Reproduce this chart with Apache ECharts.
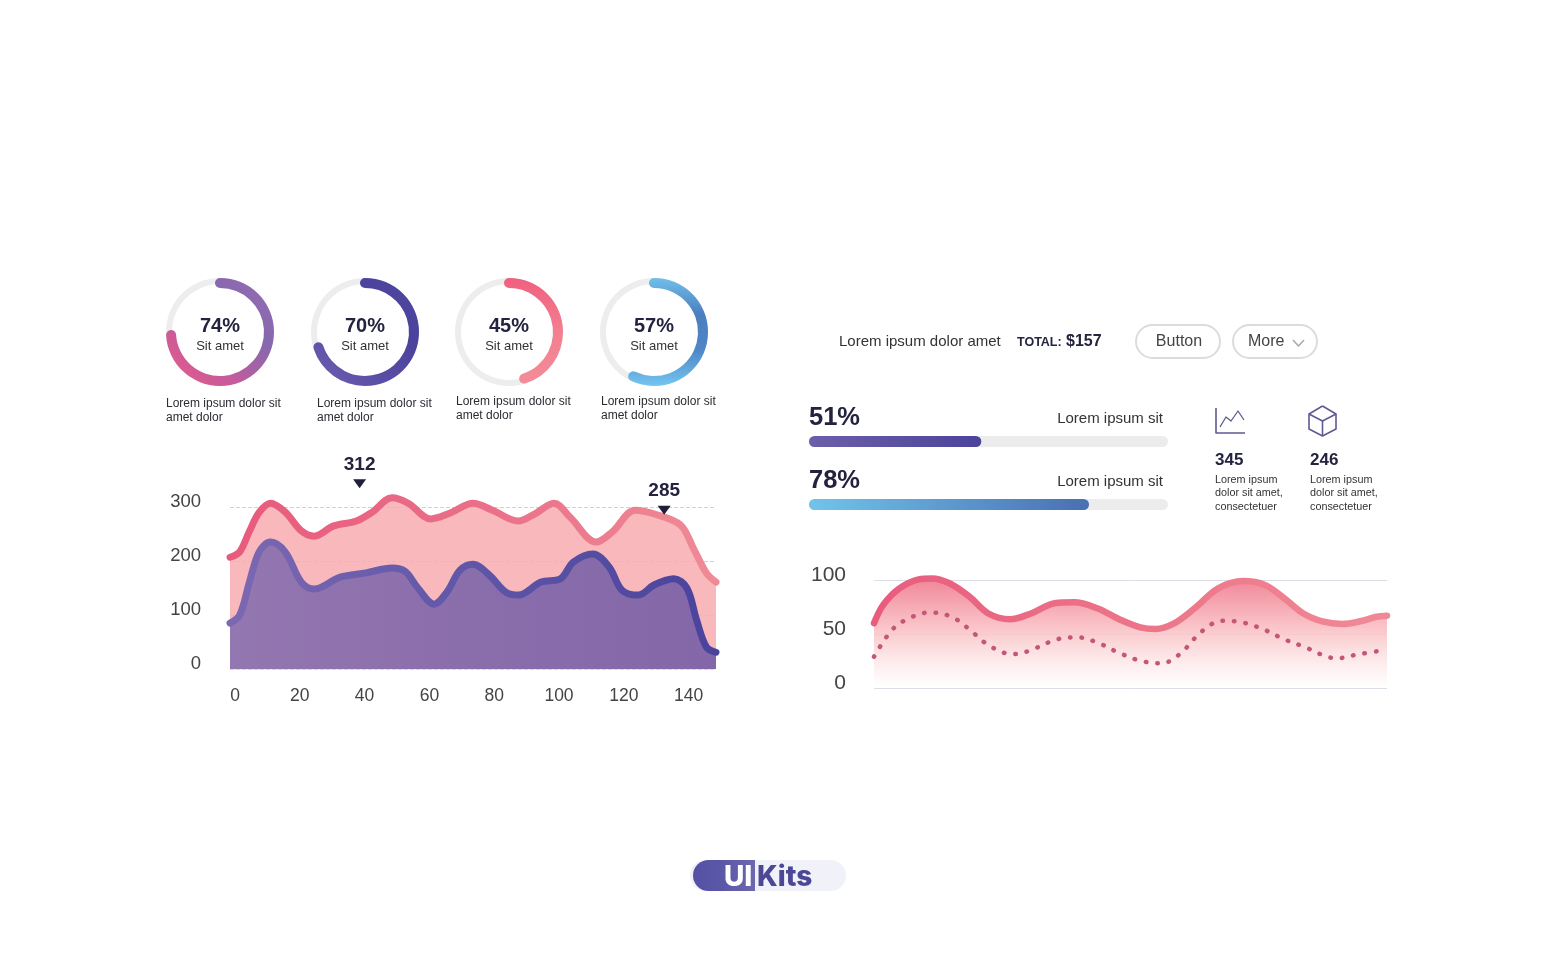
<!DOCTYPE html>
<html>
<head>
<meta charset="utf-8">
<style>
  html, body { margin: 0; background: #fff; }
  #app { width: 1556px; height: 980px; }
</style>
<script src="https://cdn.jsdelivr.net/npm/echarts@6/dist/echarts.min.js"></script>
</head>
<body>
<div id="app"></div>
<script>
const ringValues = [74, 70, 45, 57];
const ringName = 'Sit amet';
const ringCaptions = ['Lorem ipsum dolor sit', 'amet dolor'];

const areaX = [0, 3, 6, 9, 12.5, 17, 22, 26, 32, 39, 44, 50, 55, 62, 68, 75, 81, 89, 94, 100, 105, 113, 118, 125, 131, 139, 143, 147, 150];
const areaPink = [207, 217, 255, 290, 307, 291, 256, 246, 265, 274, 291, 317, 307, 278, 289, 307, 294, 274, 287, 307, 281, 235, 254, 294, 287, 267, 224, 178, 161];
const purpleX = [0, 3, 6, 9, 12.5, 17, 22, 26, 34, 42, 50, 54, 58, 63, 67, 71, 75, 80, 85, 89, 96, 102, 106, 112, 117, 121, 126, 131, 137, 141, 144, 147, 150];
const areaPurple = [85, 100, 161, 217, 235, 217, 161, 148, 170, 178, 187, 181, 150, 120, 143, 183, 194, 174, 143, 137, 161, 167, 198, 213, 189, 146, 137, 156, 167, 150, 91, 41, 31];
const calloutX = [40, 134];
const calloutY = [343, 294];
const calloutText = ['312', '285'];

const barLabels = ['51%', '78%'];
const barValues = [48, 78];

const waveX = [0, 1.8, 4.9, 8.7, 11.3, 14.7, 18.6, 22.3, 26.5, 30.6, 35.2, 39, 43.5, 48.1, 51.9, 54.9, 58.3, 62.5, 67.1, 72, 76.2, 80, 83.7, 87.6, 91.3, 95, 98, 100];
const waveSolid = [60, 77, 92, 100.6, 101.5, 97, 84.6, 69, 63.6, 69, 78.4, 79.3, 73.8, 63, 56.2, 54.6, 59.3, 73.8, 92.3, 99, 95.4, 83, 69, 61.4, 59.3, 62, 66, 67];
const dotX = [0, 3.5, 6.8, 10.9, 15.1, 18.6, 21.6, 25.3, 27.6, 31.4, 35.6, 39.8, 43.9, 47.7, 51.9, 56.1, 59.8, 62.5, 65.5, 67.8, 72, 76.2, 80, 84.1, 87.9, 90.2, 94.4, 98.9];
const waveDotted = [29, 53.7, 64.5, 70, 66, 54.3, 42, 32.7, 31.5, 36.7, 45, 46.9, 41.3, 32.7, 25.3, 22.8, 32.1, 46, 58.3, 62.3, 60.5, 53.7, 45, 37.7, 29.6, 27.5, 31.2, 34.6];

const FONT = '"Liberation Sans", Arial, sans-serif';
const INK = '#23233f';
const SMOOTH = 0.35;
const grad = (x, y, x2, y2, stops) => new echarts.graphic.LinearGradient(x, y, x2, y2,
  stops.map((color, i) => ({ offset: i / (stops.length - 1), color })));
const pairs = (xs, ys) => xs.map((x, i) => [x, ys[i]]);

const ringColors = [
  grad(1, 0, 0, 1, ['#9a6cb2', '#8568ae', '#c45c9c', '#ec5a86']),
  grad(1, 0, 0, 1, ['#4f479f', '#4a429c', '#5a4fa6', '#6e5fb2']),
  grad(0, 0, 0, 1, ['#f0607f', '#f27f90', '#f48b99']),
  grad(0, 0, 0, 1, ['#70bfea', '#4b7fbf', '#4f86c6', '#74c6f0'])
];
const ringX = [220, 365, 509, 654];

const ringSeries = ringValues.map((v, i) => ({
  type: 'gauge',
  center: [ringX[i], 332],
  radius: 54,
  startAngle: 90,
  endAngle: -270,
  min: 0,
  max: 100,
  silent: true,
  pointer: { show: false },
  anchor: { show: false },
  axisTick: { show: false },
  splitLine: { show: false },
  axisLabel: { show: false },
  axisLine: { lineStyle: { width: 6, color: [[1, '#ededed']] } },
  progress: { show: true, width: 10, roundCap: true, itemStyle: { color: ringColors[i] } },
  title: { offsetCenter: [0, 14], fontSize: 13, color: '#333', fontFamily: FONT },
  detail: {
    formatter: '{value}%', offsetCenter: [0, -6], fontSize: 20, fontWeight: 'bold',
    color: INK, fontFamily: FONT
  },
  data: [{ value: v, name: ringName }]
}));

// text helper, everything outside the plots is placed by hand
const txt = (text, x, y, font, fill = '#2b2b33', align = 'left') => ({
  type: 'text',
  silent: true,
  style: { text, x, y: y + 1, font: `${font} ${FONT}`, fill, textAlign: align, textVerticalAlign: 'middle' }
});
const btn = (x, w) => ({
  type: 'rect',
  silent: true,
  shape: { x, y: 325, width: w, height: 33, r: 16.5 },
  style: { fill: '#fff', stroke: '#dcdcdc', lineWidth: 2 }
});
const line = (points, stroke, lineWidth = 1.6) => ({
  type: 'polyline',
  silent: true,
  shape: { points },
  style: { stroke, lineWidth, fill: null, lineJoin: 'round' }
});

const captionX = [166, 317, 456, 601];
const captionY = [403, 403, 401, 401];
const captions = captionX.flatMap((x, i) => [
  txt(ringCaptions[0], x, captionY[i], '12px'),
  txt(ringCaptions[1], x, captionY[i] + 14, '12px')
]);

const statBlock = (x, num) => [
  txt(num, x, 459, 'bold 17px', INK),
  txt('Lorem ipsum', x, 479, '10.8px', '#333'),
  txt('dolor sit amet,', x, 492, '10.8px', '#333'),
  txt('consectetuer', x, 506, '10.8px', '#333')
];

const graphics = [
  ...captions,
  txt('Lorem ipsum dolor amet', 839, 341, '15px', '#333'),
  txt('TOTAL:', 1017, 342, 'bold 12.5px', INK),
  txt('$157', 1066, 341, 'bold 16px', INK),
  btn(1136, 84),
  btn(1233, 84),
  txt('Button', 1179, 341, '16px', '#444', 'center'),
  txt('More', 1248, 341, '16px', '#444'),
  line([[1293, 340], [1298.5, 346], [1304, 340]], '#aaaaaa', 1.6),
  txt(barLabels[0], 809, 417, 'bold 25.5px', INK),
  txt('Lorem ipsum sit', 1163, 418, '15px', '#333', 'right'),
  txt(barLabels[1], 809, 480, 'bold 25.5px', INK),
  txt('Lorem ipsum sit', 1163, 481, '15px', '#333', 'right'),
  // chart icon
  line([[1216, 408], [1216, 433], [1245, 433]], '#5f5a92'),
  line([[1220, 427], [1226, 417], [1231, 421], [1238, 411], [1244, 420]], '#5f5a92', 1.3),
  // box icon
  line([[1322.5, 406], [1336, 414], [1336, 429], [1322.5, 436], [1309, 429], [1309, 414], [1322.5, 406]], '#5f5a92'),
  line([[1309, 414], [1322.5, 421], [1336, 414]], '#5f5a92'),
  line([[1322.5, 421], [1322.5, 436]], '#5f5a92'),
  ...statBlock(1215, '345'),
  ...statBlock(1310, '246'),
  // logo
  {
    type: 'rect', silent: true,
    shape: { x: 690, y: 860, width: 156, height: 31, r: 15.5 },
    style: { fill: '#f1f2f9' }
  },
  {
    type: 'rect', silent: true,
    shape: { x: 693, y: 860, width: 62, height: 31, r: [15.5, 0, 0, 15.5] },
    style: { fill: grad(0, 0, 1, 0, ['#5450a4', '#5c58a8', '#6b68ae']) }
  },
  {
    type: 'text', silent: true,
    style: { text: 'UI', x: 724, y: 878, font: '800 28px Inter, sans-serif', fill: '#fff', textAlign: 'left', textVerticalAlign: 'middle' }
  },
  {
    type: 'text', silent: true,
    style: { text: 'Kits', x: 757, y: 878, font: '800 28px Inter, sans-serif', fill: '#4c4797', textAlign: 'left', textVerticalAlign: 'middle' }
  }
];

const noLine = { show: false };
const option = {
  animation: false,
  backgroundColor: '#fff',
  graphic: { elements: graphics },
  grid: [
    { left: 230, top: 453, width: 486, height: 216 },
    { left: 809, top: 410, width: 359, height: 126 },
    { left: 874, top: 526, width: 513, height: 162 }
  ],
  xAxis: [
    {
      gridIndex: 0, type: 'value', min: 0, max: 150, interval: 20,
      axisLine: { show: true, lineStyle: { color: '#d9d4e6', type: 'dashed' } },
      axisTick: noLine,
      splitLine: noLine,
      axisLabel: {
        showMaxLabel: false, margin: 18, fontSize: 17.5, color: '#444', fontFamily: FONT,
        padding: [0, 0, 0, 10]
      }
    },
    { gridIndex: 1, type: 'value', min: 0, max: 100, show: false, splitLine: noLine },
    {
      gridIndex: 2, type: 'value', min: 0, max: 100, interval: 20,
      axisLine: noLine, axisTick: noLine, axisLabel: noLine, splitLine: noLine
    }
  ],
  yAxis: [
    {
      gridIndex: 0, type: 'value', min: 0, max: 400, interval: 100,
      axisLine: noLine, axisTick: noLine,
      splitLine: { showMaxLine: false, lineStyle: { color: '#cfd2d6', type: 'dashed' } },
      axisLabel: {
        showMaxLabel: false, margin: 29, fontSize: 18.5, color: '#444', fontFamily: FONT,
        verticalAlign: 'bottom', lineHeight: 10
      }
    },
    {
      gridIndex: 1, type: 'category', data: barLabels, inverse: true, show: false
    },
    {
      gridIndex: 2, type: 'value', min: 0, max: 150, interval: 50,
      axisLine: noLine, axisTick: noLine,
      splitLine: { showMaxLine: false, lineStyle: { color: '#dddde6' } },
      axisLabel: {
        showMaxLabel: false, margin: 28, fontSize: 21, color: '#444', fontFamily: FONT,
        verticalAlign: 'bottom', lineHeight: 10
      }
    }
  ],
  series: [
    ...ringSeries,
    {
      type: 'line', xAxisIndex: 0, yAxisIndex: 0, smooth: SMOOTH, showSymbol: false, clip: false, z: 2,
      data: pairs(areaX, areaPink),
      lineStyle: { width: 7, cap: 'round', color: grad(0, 0, 1, 0, ['#e85a7c', '#ea6e88', '#ef8b96']) },
      areaStyle: { color: 'rgba(248,172,176,0.85)', opacity: 1, origin: 'start' },
      markPoint: {
        symbol: 'triangle',
        symbolRotate: 180,
        symbolSize: [13, 9],
        itemStyle: { color: '#1f1f3a' },
        label: {
          show: true, position: 'top', distance: 5, fontSize: 19, fontWeight: 'bold',
          color: INK, fontFamily: FONT, formatter: p => p.name
        },
        data: calloutX.map((x, i) => ({ coord: [x, calloutY[i]], name: calloutText[i] }))
      }
    },
    {
      type: 'line', xAxisIndex: 0, yAxisIndex: 0, smooth: SMOOTH, showSymbol: false, clip: false, z: 3,
      data: pairs(purpleX, areaPurple),
      lineStyle: { width: 7, cap: 'round', color: grad(0, 0, 1, 0, ['#7d68b2', '#5f56a8', '#4a439c']) },
      areaStyle: { color: grad(0, 0, 1, 0, ['#9377b0', '#8a6dab', '#8367a8']), opacity: 1, origin: 'start' }
    },
    {
      type: 'bar', xAxisIndex: 1, yAxisIndex: 1, barWidth: 11,
      showBackground: true,
      backgroundStyle: { color: '#ececec', borderRadius: 6 },
      data: [
        { value: barValues[0], itemStyle: { borderRadius: 6, color: grad(0, 0, 1, 0, ['#6c5fa9', '#4c449b']) } },
        { value: barValues[1], itemStyle: { borderRadius: 6, color: grad(0, 0, 1, 0, ['#70c4ea', '#4a6fb2']) } }
      ]
    },
    {
      type: 'line', xAxisIndex: 2, yAxisIndex: 2, smooth: SMOOTH, showSymbol: false, clip: false, z: 3,
      data: pairs(waveX, waveSolid),
      lineStyle: { width: 6.5, cap: 'round', color: grad(0, 0, 1, 0, ['#e85c7e', '#ec7488', '#f08a96']) },
      areaStyle: {
        origin: 'start',
        opacity: 1,
        color: grad(0, 0, 0, 1, ['rgba(239,120,140,0.9)', 'rgba(250,195,198,0.85)', 'rgba(255,255,255,0.6)'])
      }
    },
    {
      type: 'line', xAxisIndex: 2, yAxisIndex: 2, smooth: SMOOTH, showSymbol: false, clip: false, z: 4,
      data: pairs(dotX, waveDotted),
      lineStyle: { width: 4.5, cap: 'round', type: [0.5, 11], color: '#c25876' }
    }
  ]
};

const myChart = echarts.init(document.getElementById('app'));
myChart.setOption(option);
</script>
</body>
</html>
